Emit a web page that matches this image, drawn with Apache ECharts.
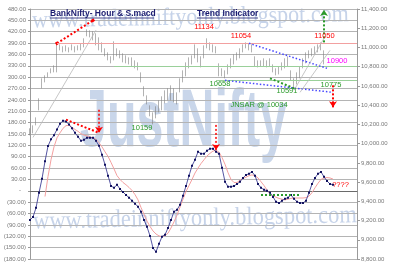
<!DOCTYPE html>
<html><head><meta charset="utf-8">
<script src="https://cdn.jsdelivr.net/npm/echarts@6/dist/echarts.min.js"></script>
<style>html,body{margin:0;padding:0;background:#fff}#c{width:400px;height:274px}</style>
</head><body><div id="c"></div>
<script>
// ---- data (hourly bars, index = hour) ----
const categories = Array.from({length: 110}, (_, i) => String(i));

const priceHigh = [10159,10190,10273,10471,10679,10710,10741,10783,10814,11043,
 11032,11012,11022,11001,11032,11012,11022,11043,11095,11188,
 11178,11168,11147,11105,11053,10991,10949,10908,11064,10991,
 10970,10939,10918,10897,10897,10866,10845,10741,10596,10502,
 10398,10325,10388,10450,10492,10554,10575,10606,10575,10533,
 10679,10762,10845,10897,10918,11032,10991,10908,11022,11095,
 11053,11032,11012,10835,10783,10762,10824,10887,10928,10949,
 10991,11032,11053,11043,11032,10908,10866,10866,10887,10866,
 10887,10824,10783,10804,10845,10887,10908,10762,10679,10741,
 10804,10887,10949,10970,10991,11012,11032,11053,10970];

const priceLow = [10086,10107,10190,10346,10575,10637,10689,10731,10741,10741,
 10970,10949,10960,10949,10970,10949,10970,10970,11001,11116,
 11105,11074,11022,10970,10949,10908,10866,10835,10866,10908,
 10887,10845,10835,10824,10804,10783,10762,10637,10492,10408,
 10284,10200,10263,10325,10346,10419,10450,10450,10429,10408,
 10533,10637,10700,10783,10824,10887,10845,10793,10887,10991,
 10970,10949,10939,10700,10700,10679,10720,10783,10824,10866,
 10887,10949,10991,10970,10949,10804,10793,10804,10804,10793,
 10804,10741,10710,10720,10762,10783,10804,10658,10564,10616,
 10679,10783,10835,10887,10908,10928,10949,10970,10824];

const macd = [-77,-69,-45,-5,32,78,118,136,147,162,
 177,185,183,175,165,153,143,132,135,140,
 140,140,132,119,95,69,40,13,8,16,
 5,-3,-11,-18,-26,-34,-42,-55,-77,-95,
 -119,-151,-161,-140,-121,-116,-98,-77,-55,-50,
 -37,-13,13,40,66,82,103,98,98,106,
 111,111,103,98,61,24,11,11,13,18,
 24,34,42,45,50,40,18,8,3,0,
 -5,-16,-29,-32,-26,-21,-18,-11,-21,-29,
 -32,-32,-26,-5,18,34,45,50,37,26,
 18,16];

const signal = [null,null,null,null,null,-15,38,82,116,140,
 153,165,172,173,168,162,157,151,147,145,
 142,140,136,127,116,103,91,75,58,40,
 30,22,16,9,1,-10,-24,-44,-62,-80,
 -94,-106,-114,-119,-121,-118,-112,-98,-82,-64,
 -43,-22,-2,14,30,47,60,72,82,92,
 99,105,107,102,88,70,48,30,22,22,
 28,33,36,40,42,40,34,24,14,2,
 -8,-13,-17,-20,-22,-24,-22,-20,-19,-19,
 -19,-19,-18,-14,-5,8,20,30,34,35,
 34,31];

// axis ranges (tick labels generated by the axes)
const macdAxis = {min: -180, max: 480, interval: 30};
const priceAxis = {min: 8800, max: 11400, interval: 200};

// annotation trend lines, in data coordinates [hour index, value]
const RED = '#ff0000', GREEN = '#2a9a2a', BLUE = '#4646ff', GRAY = '#b8b8b8';
const priceNotes = [
  {from:[9,11043], to:[21,11282], color:RED, dash:[2,2], width:2, s1:'rect', s2:'rect', ss:3},
  {from:[1,10065], to:[22,11180], color:GRAY, width:0.8},
  {from:[9,11040], to:[109,11040], color:'#f2a0a0', width:1},
  {from:[28,10800], to:[109,10800], color:'#9ad09a', width:1},
  {from:[62,10663], to:[109,10663], color:'#9ad09a', width:1},
  {from:[73,11043], to:[99,10783], color:BLUE, dash:[1.5,2], width:1.5},
  {from:[65,10658], to:[101,10533], color:BLUE, dash:[1.5,2], width:1.5},
  {from:[80,10679], to:[88,10575], color:GREEN, dash:[2,2], width:2},
  {from:[88,10554], to:[98,11095], color:GRAY, width:0.8},
  {from:[90,10533], to:[100,10970], color:GRAY, width:0.8},
  {from:[98,11053], to:[98,11390], color:GREEN, dash:[2,2], width:2, s2:'arrow', ss:6},
  {from:[101,10606], to:[101,10377], color:RED, dash:[2,2], width:2, s2:'arrow', ss:6}
];
const macdNotes = [
  {from:[12,188], to:[23,153], color:RED, dash:[2,2], width:2},
  {from:[23,214], to:[23,153], color:RED, dash:[2,2], width:1.5, s2:'arrow', ss:6},
  {from:[62,174], to:[62,108], color:RED, dash:[2,2], width:1.5, s2:'arrow', ss:6},
  {from:[45,-186], to:[45,-145], color:GREEN, dash:[2,2], width:2, s2:'arrow', ss:5},
  {from:[77,-11], to:[90,-11], color:GREEN, dash:[2,2], width:2}
];

// annotation texts
const notes = [
  {t:'11134', x:204, y:26.5, c:RED},
  {t:'11054', x:241, y:35.5, c:RED},
  {t:'11050', x:324.5, y:35.5, c:RED},
  {t:'10900', x:337, y:60.5, c:'#ff00ff'},
  {t:'10775', x:331, y:85, c:GREEN},
  {t:'10591', x:287, y:91, c:GREEN},
  {t:'10658', x:220, y:84, c:GREEN},
  {t:'10159', x:142, y:128, c:GREEN},
  {t:'JNSAR @ 10034', x:259, y:104.5, c:GREEN},
  {t:'????', x:340.5, y:185, c:RED}
];

function ml(a) {
  const ls = {color:a.color, width:a.width, type:a.dash || 'solid', opacity:1};
  return [
    {coord:a.from, symbol:a.s1 || 'none', symbolSize:a.ss || 4, lineStyle:ls},
    {coord:a.to, symbol:a.s2 || 'none', symbolSize:a.ss || 4, lineStyle:ls}
  ];
}
const markBase = {silent:true, symbol:['none','none'], label:{show:false}, emphasis:{disabled:true}, animation:false};

const FONT = '"Liberation Sans", Arial, sans-serif';
const fmtLeft = v => v === 0 ? '-   ' : (v < 0 ? '(' + Math.abs(v).toFixed(2) + ')' : v.toFixed(2));
const fmtRight = v => v.toLocaleString('en-US', {minimumFractionDigits:2, maximumFractionDigits:2});

const graphics = [
  {type:'text', x:80, y:123, scaleX:0.59, z:-5, silent:true,
   style:{text:'JustNifty', x:0, y:0, fill:'#c9d6ea', font:'bold 82px ' + FONT, align:'left', verticalAlign:'middle'}},
  {type:'text', x:32, y:21, rotation:0.02, scaleY:1.12, z:-5, silent:true,
   style:{text:'www.tradeinniftyonly.blogspot.com', x:0, y:0, fill:'#c6d3e9', font:'22px "Liberation Serif", serif', align:'left', verticalAlign:'middle'}},
  {type:'text', x:33, y:222, rotation:0.02, scaleY:1.12, z:-5, silent:true,
   style:{text:'www.tradeinniftyonly.blogspot.com', x:0, y:0, fill:'#c6d3e9', font:'22.5px "Liberation Serif", serif', align:'left', verticalAlign:'middle'}},
  {type:'text', x:50, y:13.5, z:50, silent:true,
   style:{text:'BankNifty- Hour & S.macd', fill:'#1c1c70', font:'bold 8.5px ' + FONT, align:'left', verticalAlign:'middle'}},
  {type:'line', z:50, silent:true, shape:{x1:50, y1:18, x2:154, y2:18}, style:{stroke:'#1c1c70', lineWidth:0.8}},
  {type:'text', x:197, y:13.5, z:50, silent:true,
   style:{text:'Trend Indicator', fill:'#1c1c70', font:'bold 8.5px ' + FONT, align:'left', verticalAlign:'middle'}},
  {type:'line', z:50, silent:true, shape:{x1:197, y1:18, x2:258, y2:18}, style:{stroke:'#1c1c70', lineWidth:0.8}}
].concat(notes.map(n => ({type:'text', x:n.x, y:n.y, z:50, silent:true,
   style:{text:n.t, fill:n.c, font:'7.5px ' + FONT, align:'center', verticalAlign:'middle'}})));

const option = {
  animation: false,
  backgroundColor: '#ffffff',
  textStyle: {fontFamily: FONT},
  grid: {left:30, right:43, top:9, bottom:15, containLabel:false},
  xAxis: {type:'category', data:categories, boundaryGap:false,
    axisLine:{show:true, onZero:true, onZeroAxisIndex:0, lineStyle:{color:'#6a6a6a', width:1}},
    axisTick:{show:false}, axisLabel:{show:false}, splitLine:{show:false}},
  yAxis: [
    {type:'value', position:'left', min:macdAxis.min, max:macdAxis.max, interval:macdAxis.interval,
     axisLine:{show:true, lineStyle:{color:'#9a9a9a'}},
     axisTick:{show:true, length:2, lineStyle:{color:'#9a9a9a'}},
     axisLabel:{fontSize:6, color:'#7a7a7a', margin:4, formatter:fmtLeft},
     splitLine:{show:true, lineStyle:{color:'#b4b4b4', width:1}}},
    {type:'value', position:'right', min:priceAxis.min, max:priceAxis.max, interval:priceAxis.interval,
     axisLine:{show:true, lineStyle:{color:'#9a9a9a'}},
     axisTick:{show:true, length:3, lineStyle:{color:'#9a9a9a'}},
     axisLabel:{fontSize:6, color:'#7a7a7a', margin:4, formatter:fmtRight},
     splitLine:{show:false}}
  ],
  series: [
    {type:'candlestick', name:'BankNifty', xAxisIndex:0, yAxisIndex:1, barWidth:1,
     data: priceHigh.map((h, i) => [priceLow[i], h, priceLow[i], h]),
     itemStyle:{color:'#808080', color0:'#808080', borderColor:'#808080', borderColor0:'#808080', borderWidth:0.6},
     markLine: Object.assign({}, markBase, {data: priceNotes.map(ml)}), z:3},
    {type:'line', name:'S.macd', yAxisIndex:0, data:macd, symbol:'rect', symbolSize:2, showAllSymbol:true,
     lineStyle:{color:'#2a2a8a', width:0.8}, itemStyle:{color:'#10105e'},
     markLine: Object.assign({}, markBase, {data: macdNotes.map(ml)}), z:4},
    {type:'line', name:'Signal', yAxisIndex:0, data:signal, symbol:'none', connectNulls:false,
     lineStyle:{color:'#f4a0a0', width:1}, z:3}
  ],
  graphic: {elements: graphics}
};
const chart = echarts.init(document.getElementById('c'));
chart.setOption(option);
</script></body></html>
